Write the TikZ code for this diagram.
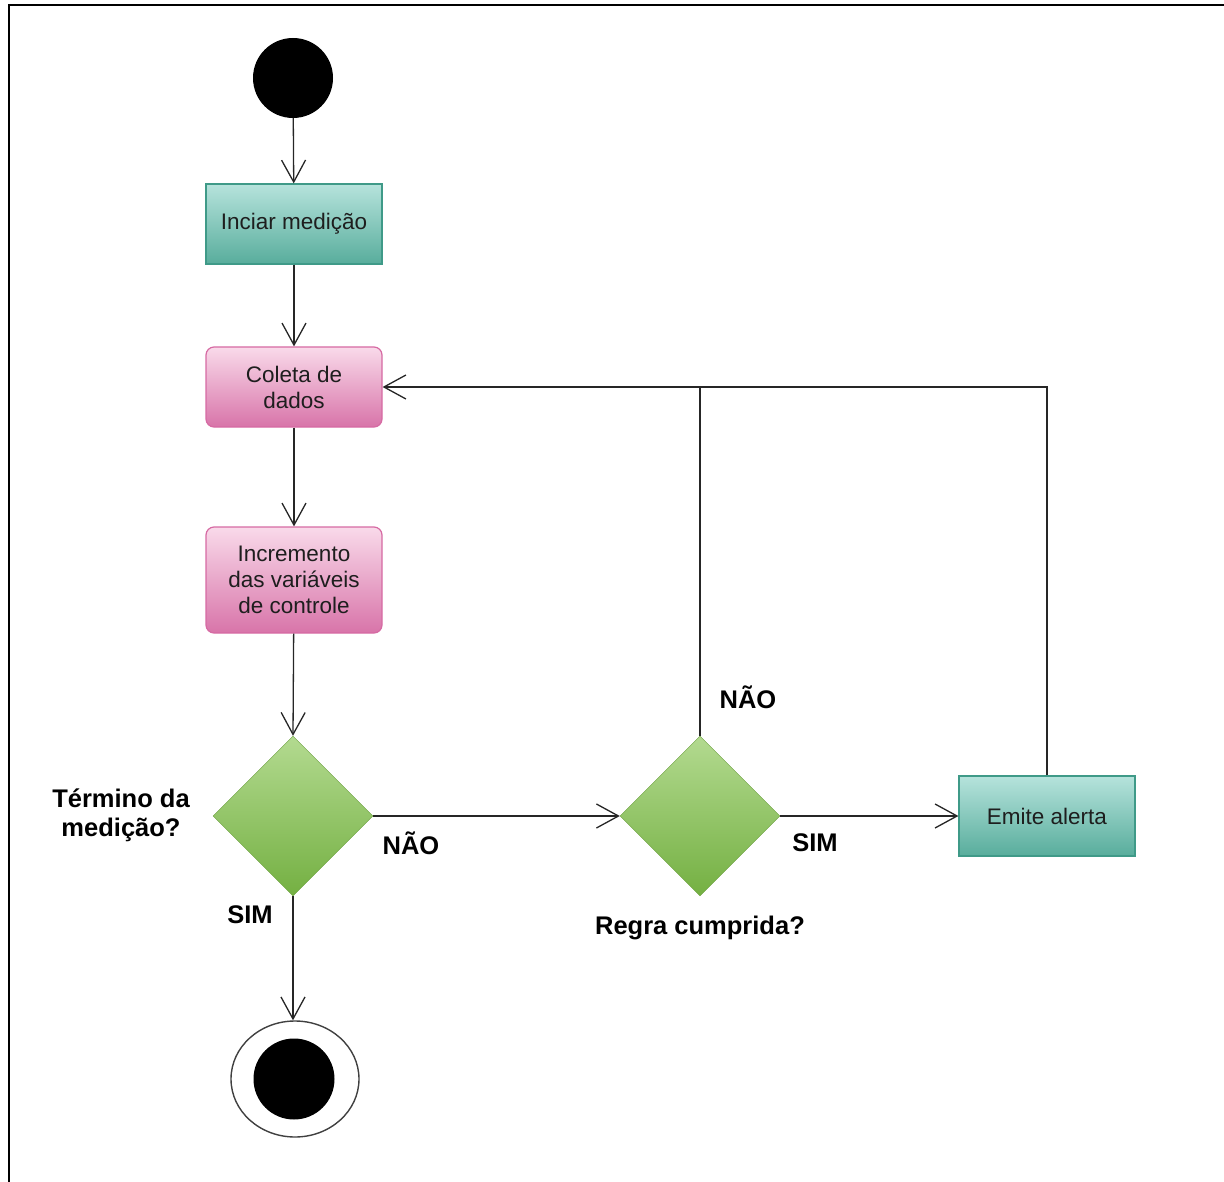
\documentclass[tikz,border=0pt]{standalone}
\usepackage{fontspec}
\setmainfont{Liberation Sans}
\usetikzlibrary{shapes.geometric,arrows.meta}

\definecolor{tealtop}{HTML}{B6E3DC}
\definecolor{tealbot}{HTML}{58AD9C}
\definecolor{tealedge}{HTML}{3F9A88}
\definecolor{pinktop}{HTML}{F9DAEA}
\definecolor{pinkbot}{HTML}{D874A9}
\definecolor{pinkedge}{HTML}{D66AA3}
\definecolor{greentop}{HTML}{B3DA90}
\definecolor{greenbot}{HTML}{74B042}
\definecolor{txt}{HTML}{1E1E1E}

\tikzset{
  action/.style={rectangle, minimum width=176pt, minimum height=80pt, inner sep=0pt,
    top color=tealtop, bottom color=tealbot, draw=tealedge, line width=1.2pt,
    font=\fontsize{22.5}{26}\selectfont, text=txt, align=center},
  softbox/.style={rectangle, rounded corners=8pt, minimum width=176pt, minimum height=80pt,
    inner sep=0pt, top color=pinktop, bottom color=pinkbot, draw=pinkedge, line width=1.2pt,
    font=\fontsize{22.5}{26}\selectfont, text=txt, align=center},
  choice/.style={diamond, aspect=1, minimum width=160pt, minimum height=160pt, inner sep=0pt,
    top color=greentop, bottom color=greenbot, draw=greenbot!90!black, line width=0.4pt},
  tag/.style={font=\bfseries\fontsize{25.5}{29}\selectfont, align=center, inner sep=0pt},
  flow/.style={line width=1.3pt, draw=black!85},
  arr/.style={flow, -{Straight Barb[length=22pt,width=24pt,line width=1.3pt]}},
}

\begin{document}
\begin{tikzpicture}[x=1pt,y=-1pt]
\useasboundingbox (0,0) rectangle (1224,1182);

% page frame (left and top edges)
\draw[line width=2pt, black] (8.5,1182) -- (8.5,5.5) -- (1224,5.5);

% initial and final states
\node[circle, fill=black, minimum size=80pt, inner sep=0pt] (start) at (293,78) {};
\node[ellipse, draw=black!75, line width=1.4pt, fill=white, minimum width=128pt,
      minimum height=116pt, inner sep=0pt] (endo) at (295,1079) {};
\node[circle, fill=black, minimum size=81pt, inner sep=0pt] (endi) at (294,1079) {};

% activities
\node[action]  (ini)  at (294,224) {Inciar medição};
\node[softbox] (col)  at (294,387) {Coleta de\\dados};
\node[softbox, minimum height=106pt] (inc) at (294,580) {Incremento\\das variáveis\\de controle};
\node[action]  (alert) at (1047,816) {Emite alerta};

% decisions
\node[choice] (d1) at (293,816) {};
\node[choice] (d2) at (700,816) {};

% labels
\node[tag] (qd1) at (121,815) {Término da\\medição?};
\node[tag] (qd2) at (700,928) {Regra cumprida?};
\node[tag] (n1) at (411,843) {NÃO};
\node[tag] (s1) at (250,915) {SIM};
\node[tag] (n2) at (748,697) {NÃO};
\node[tag] (s2) at (815,843) {SIM};

% flows
\draw[arr] (start) -- (ini);
\draw[arr] (ini) -- (col);
\draw[arr] (col) -- (inc);
\draw[arr] (inc) -- (d1.north);
\draw[arr] (d1.east) -- (d2.west);
\draw[arr] (d2.east) -- (alert.west);
\draw[arr] (d1.south) -- (d1.south |- endo.north);
\coordinate (join) at (d2.north |- col.east);
\draw[arr] (d2.north) |- (col.east);
\draw[flow] (alert.north) |- (join);
\end{tikzpicture}
\end{document}
